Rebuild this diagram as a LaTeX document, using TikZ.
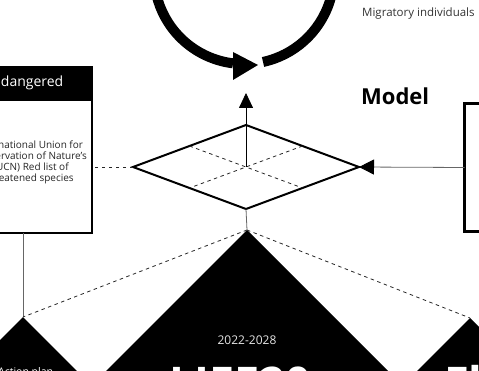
\documentclass[tikz,border=0pt]{standalone}
\usepackage{fontspec}
\setmainfont{Open Sans}
\usetikzlibrary{shapes.geometric,arrows.meta,calc}
\begin{document}
\begin{tikzpicture}[x=1pt,y=-1pt,
  dashline/.style={dash pattern=on 3.5pt off 3.5pt, line width=0.8pt, black!85},
  thinline/.style={line width=0.8pt},
  blacktri/.style={fill=black}]
\useasboundingbox (0,0) rectangle (479,371);

% cycle arrow at the top
\coordinate (cc) at (244,-26);
\draw[line width=10pt] (cc) ++(200:90) arc[start angle=200, end angle=97, radius=90];
\draw[line width=10pt] (cc) ++(77.8:90) arc[start angle=77.8, end angle=-30, radius=90];
\fill (233,52) -- (258,65) -- (233,80) -- cycle;

\node[anchor=base west, font=\fontsize{11.5}{13}\selectfont, text=black!80, inner sep=0] (mig) at (362,17) {Migratory individuals};
\node[anchor=base west, font=\fontsize{22}{26}\selectfont\bfseries, inner sep=0] (model) at (361,105) {Model};

% triangles
\coordinate (ltri) at (23,317);
\coordinate (ctri) at (247,230);
\coordinate (rtri) at (470,318);
\fill[blacktri] (ltri) -- ++(-80,80) -- ++(160,0) -- cycle;
\fill[blacktri] (ctri) -- ++(-160,160) -- ++(320,0) -- cycle;
\fill[blacktri] (rtri) -- ++(-80,80) -- ++(160,0) -- cycle;

% model diamond
\node[diamond, draw, line width=2pt, minimum width=226pt, minimum height=84pt, inner sep=0, outer sep=0] (dia) at (246,167) {};
\draw[dashline] ($(dia.north)!0.5!(dia.west)$) -- ($(dia.south)!0.5!(dia.east)$);
\draw[dashline] ($(dia.north)!0.5!(dia.east)$) -- ($(dia.south)!0.5!(dia.west)$);
\coordinate (up) at (246,93);
\draw[thinline, -{Triangle[length=15pt,width=14pt]}] (dia.center) -- (up);

% right box
\node[draw, line width=3.5pt, minimum width=140pt, minimum height=128pt, anchor=north west, inner sep=0, outer sep=0] (rbox) at (464.5,103.5) {};
\draw[thinline, black!60, -{Triangle[length=15pt,width=15pt,color=black]}] (rbox.west) -- (dia.east);

% left box
\node[draw, line width=2pt, fill=white, minimum width=138pt, minimum height=166pt, anchor=north west, inner sep=0, outer sep=0] (lbox) at (-46,67) {};
\node[fill=black, minimum width=140pt, minimum height=35pt, anchor=north west, inner sep=0, outer sep=0] (lhead) at (-47,66) {};
\node[anchor=base east, text=white, font=\fontsize{14}{16}\selectfont, inner sep=0] (lheadtxt) at (63.5,87) {Endangered};
\node[align=center, font=\fontsize{10}{10.8}\selectfont, text=black!85, inner sep=0] (ltxt) at (29.5,162.5) {International Union for\\Conservation of Nature’s\\(IUCN) Red list of\\threatened species};
\draw[dashline] (dia.west) -- (dia.west -| lbox.east);
\draw[thinline, black!60] (lbox.south) -- (ltri);

% links between triangles
\draw[thinline, black!60] (dia.south) -- (ctri);
\draw[dashline] (ctri) -- (ltri);
\draw[dashline] (ctri) -- (rtri);

% triangle texts
\node[anchor=base, text=white!90!black, font=\fontsize{12}{14}\selectfont, inner sep=0] (yrs) at (247,344) {2022-2028};
\node[anchor=base west, text=white, font=\fontsize{45}{50}\selectfont\bfseries, inner sep=0] (life) at (169,399) {LIFE20};
\node[anchor=base west, text=white, font=\fontsize{45}{50}\selectfont\bfseries, inner sep=0] (fly) at (444,399) {Flyway};
\node[anchor=base west, text=white, font=\fontsize{10.5}{12}\selectfont, inner sep=0] (act) at (-2,375) {Action plan};
\end{tikzpicture}
\end{document}
